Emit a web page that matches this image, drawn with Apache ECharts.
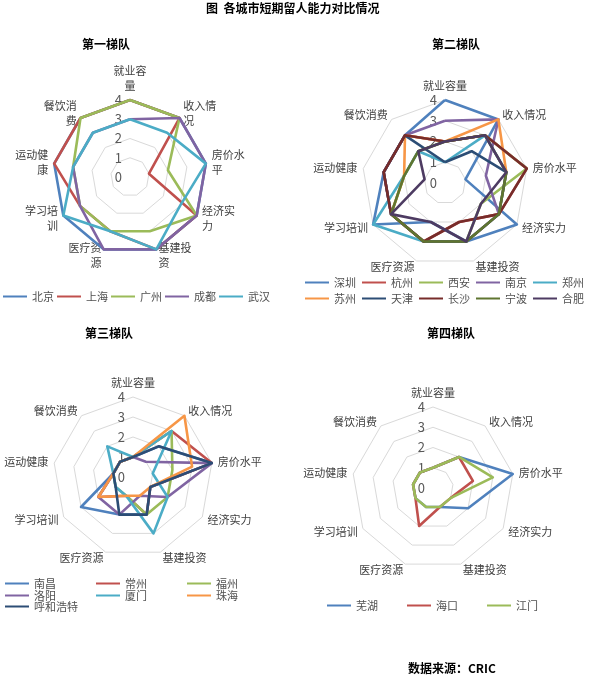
<!DOCTYPE html>
<html><head><meta charset="utf-8">
<script src="https://cdn.jsdelivr.net/npm/echarts@6/dist/echarts.min.js"></script>
<style>html,body{margin:0;padding:0;background:#fff}#c{width:600px;height:684px}</style>
</head><body><div id="c"></div>
<script>
const FONT = '"Noto Sans CJK SC", "Noto Sans", sans-serif';
const indicators = ['就业容量','收入情况','房价水平','经济实力','基建投资','医疗资源','学习培训','运动健康','餐饮消费'];
const tickLabels = ['0','1','2','3','4'];

const tier1Cities = ['北京','上海','广州','成都','武汉'];
const tier1Colors = ['#4F81BD','#C0504D','#9BBB59','#8064A2','#4BACC6'];
const tier1Values = [
  [4,4,4,4,4,4,4,4,4],
  [4,4,1,4,4,3,3,4,4],
  [4,4,2,4,3,3,3,3,4],
  [3,4,4,4,4,4,3,3,3],
  [3,3,4,3,4,3,4,3,3]
];

const tier2Cities = ['深圳','杭州','西安','南京','郑州','苏州','天津','长沙','宁波','合肥'];
const tier2Colors = ['#4F81BD','#C0504D','#9BBB59','#8064A2','#4BACC6','#F79646','#2C4D75','#772C2A','#5F7530','#4D3B62'];
const tier2Values = [
  [4,4,1,4,3,2,4,3,3],
  [2,3,4,3,2,3,3,3,3],
  [2,3,4,2,3,3,3,2,2],
  [3,4,2,3,3,3,3,3,3],
  [1,3,3,3,3,3,4,2,2],
  [2,4,3,3,3,3,3,2,3],
  [1,2,3,3,3,3,3,3,3],
  [2,3,4,3,2,3,3,3,3],
  [2,3,3,3,3,3,3,2,2],
  [2,3,3,2,3,2,3,1,2]
];

const tier3Cities = ['南昌','常州','福州','洛阳','厦门','珠海','呼和浩特'];
const tier3Colors = ['#4F81BD','#C0504D','#9BBB59','#8064A2','#4BACC6','#F79646','#2C4D75'];
const tier3Values = [
  [1,2,4,1,2,2,3,1,1],
  [1,3,4,1,2,1,2,1,1],
  [1,3,2,2,2,1,1,1,1],
  [1,1,4,2,1,2,2,1,1],
  [1,3,1,2,3,1,1,1,2],
  [1,4,3,1,1,1,2,1,1],
  [1,2,4,1,2,2,1,1,1]
];

const tier4Cities = ['芜湖','海口','江门'];
const tier4Colors = ['#4F81BD','#C0504D','#9BBB59'];
const tier4Values = [
  [1,2,4,2,1,1,1,1,1],
  [1,2,2,1,1,2,1,1,1],
  [1,2,3,1,1,1,1,1,1]
];

// ECharts places indicators counter-clockwise; the reference runs clockwise.
const order = [0,8,7,6,5,4,3,2,1];
function reorder(arr){ return order.map(i => arr[i]); }

function makeRadar(center, radius, wrap, nameGap){
  const axisName = {color:'#404040', fontSize:11, fontFamily:FONT, lineHeight:15};
  if (wrap) axisName.formatter = n => n.slice(0,3) + '\n' + n.slice(3);
  return {
    center: center, radius: radius, startAngle: 90, shape: 'polygon', splitNumber: 4,
    indicator: reorder(indicators).map((n,i) => ({name:n, min:0, max:4, axisLabel:{show: i === 0}})),
    axisName: axisName,
    nameGap: nameGap,
    axisLine: {show:false},
    axisTick: {show:false},
    axisLabel: {show:false, color:'#595959', fontSize:13, fontFamily:FONT, margin:8,
                formatter: v => tickLabels[Math.round(v)]},
    splitLine: {lineStyle:{color:'#D9D9D9', width:1}},
    splitArea: {show:false}
  };
}

function makeSeries(radarIndex, names, values, colors){
  return {
    type:'radar', radarIndex: radarIndex, symbol:'none', silent:true,
    data: names.map((n,i) => ({
      name:n, value: reorder(values[i]),
      lineStyle:{color:colors[i], width:2.6},
      itemStyle:{color:colors[i]}
    }))
  };
}

function makeLegend(names, colors, left, top, gap){
  return {
    left: left, top: top, orient:'horizontal', padding:0, itemGap:gap,
    itemWidth:24, itemHeight:2, icon:'rect', selectedMode:false,
    textStyle:{fontSize:11, color:'#505050', fontFamily:FONT},
    data: names.map((n,i) => ({name:n, itemStyle:{color: colors[i]}}))
  };
}

const chart = echarts.init(document.getElementById('c'), null, {renderer:'canvas'});
const titleStyle = {fontSize:12, fontWeight:'bold', color:'#000', fontFamily:FONT};
chart.setOption({
  animation:false,
  backgroundColor:'#fff',
  title:[
    {text:'图  各城市短期留人能力对比情况', left:206, top:2, textStyle:titleStyle, padding:0},
    {text:'第一梯队', left:82, top:38, textStyle:titleStyle, padding:0},
    {text:'第二梯队', left:432, top:38, textStyle:titleStyle, padding:0},
    {text:'第三梯队', left:85, top:327, textStyle:titleStyle, padding:0},
    {text:'第四梯队', left:427, top:327, textStyle:titleStyle, padding:0},
    {text:'数据来源：CRIC', left:408, top:662, textStyle:titleStyle, padding:0}
  ],
  radar:[
    makeRadar([130,177], 77, true, 6),
    makeRadar([445,183], 83, false, 6),
    makeRadar([133,477], 80, false, 6),
    makeRadar([433,488], 81, false, 6)
  ],
  legend:[
    makeLegend(tier1Cities, tier1Colors, 3, 291, 3),
    makeLegend(tier2Cities.slice(0,5), tier2Colors.slice(0,5), 305, 277, 6),
    makeLegend(tier2Cities.slice(5), tier2Colors.slice(5), 305, 293, 6),
    makeLegend(tier3Cities.slice(0,3), tier3Colors.slice(0,3), 5, 578, 40),
    makeLegend(tier3Cities.slice(3,6), tier3Colors.slice(3,6), 5, 590, 40),
    makeLegend(tier3Cities.slice(6), tier3Colors.slice(6), 5, 601, 40),
    makeLegend(tier4Cities, tier4Colors, 327, 600, 29)
  ],
  series:[
    makeSeries(0, tier1Cities, tier1Values, tier1Colors),
    makeSeries(1, tier2Cities, tier2Values, tier2Colors),
    makeSeries(2, tier3Cities, tier3Values, tier3Colors),
    makeSeries(3, tier4Cities, tier4Values, tier4Colors)
  ]
});
</script></body></html>
